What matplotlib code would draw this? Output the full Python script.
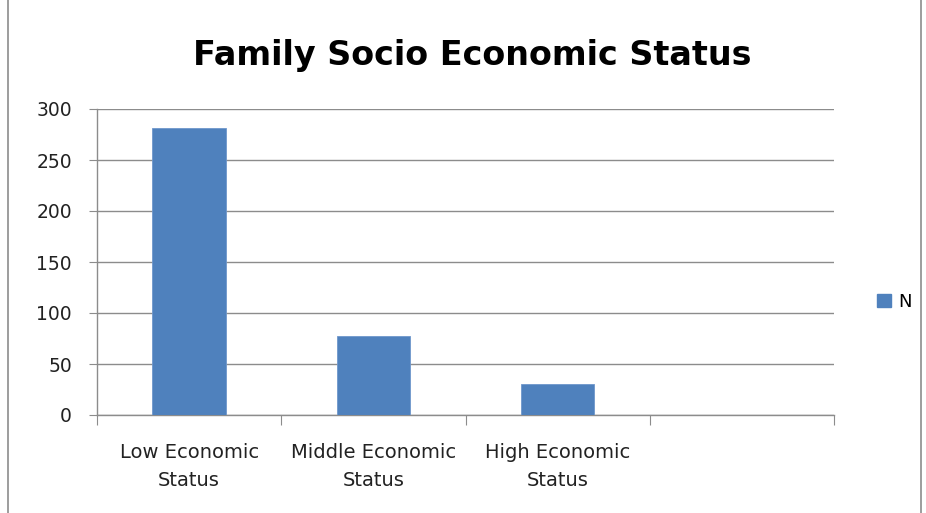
import matplotlib
matplotlib.use("Agg")
import matplotlib.pyplot as plt
from matplotlib.patches import Rectangle, Patch

categories = ["Low Economic\nStatus", "Middle Economic\nStatus", "High Economic\nStatus", ""]
values = [281, 77, 30, None]
series_name = "N"
yticks = [0, 50, 100, 150, 200, 250, 300]
title = "Family Socio Economic Status"

bar_color = "#4F81BD"
grid_color = "#8C8C8C"
font = "DejaVu Sans"

fig = plt.figure(figsize=(9.26, 5.13), dpi=100)
W, H = 926, 513
ax = fig.add_axes([97 / W, 1 - 415 / H, (834 - 97) / W, (415 - 109) / H])

xs = list(range(len(categories)))
for x, v in zip(xs, values):
    if v is not None:
        ax.bar(x, v, width=0.4, color=bar_color, edgecolor="#6F97CC", linewidth=0.6, zorder=3)

ax.set_xlim(-0.5, len(categories) - 0.5)
ax.set_ylim(0, 300)
ax.set_yticks(yticks)
ax.set_yticklabels([str(t) for t in yticks], fontfamily=font, fontsize=13.5, color="#222222")
ax.yaxis.grid(True, color=grid_color, linewidth=1.0, zorder=0)
ax.tick_params(axis="y", length=6, color=grid_color, pad=12)

# category boundaries carry the x tick marks; labels sit at centres
ax.set_xticks([i - 0.5 for i in range(len(categories) + 1)])
ax.set_xticklabels([])
ax.set_xticks(xs, minor=True)
ax.set_xticklabels(categories, minor=True, fontfamily=font, fontsize=14, linespacing=1.6,
                   color="#222222")
ax.tick_params(axis="x", which="major", length=7, color=grid_color)
ax.tick_params(axis="x", which="minor", length=0, pad=20)

for side in ("top", "right"):
    ax.spines[side].set_visible(False)
for side in ("left", "bottom"):
    ax.spines[side].set_color(grid_color)
    ax.spines[side].set_linewidth(1.0)

fig.text(472 / W, 1 - 56 / H, title, ha="center", va="center",
         fontfamily=font, fontweight="bold", fontsize=24)

leg = fig.legend(handles=[Patch(facecolor=bar_color, edgecolor=bar_color)], labels=[series_name],
                 loc="center left", bbox_to_anchor=(868 / W, 1 - 302 / H), frameon=False,
                 prop={"family": font, "size": 13}, handlelength=0.75, handleheight=0.75,
                 handletextpad=0.4, borderpad=0)

# chart area border
fig.patches.append(Rectangle((8 / W, -0.01), (921 - 8) / W, 1.02, transform=fig.transFigure,
                             fill=False, edgecolor="#8C8C8C", linewidth=1.2))

fig.savefig("out.png", dpi=100)
